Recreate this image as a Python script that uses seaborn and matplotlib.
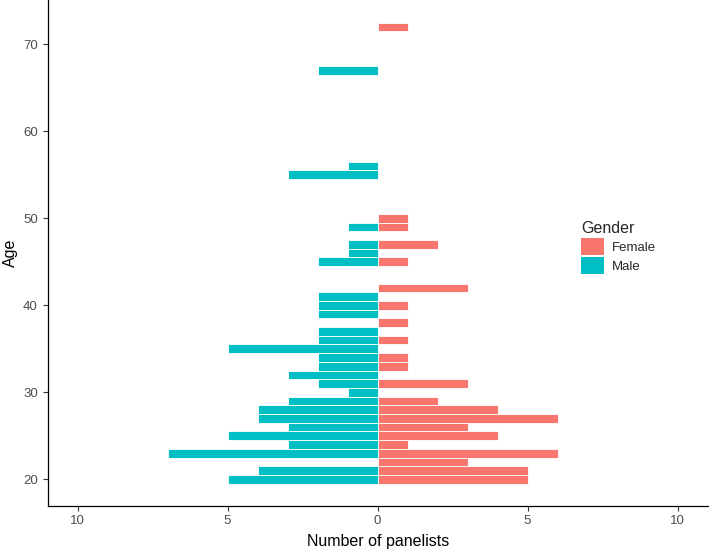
import matplotlib
matplotlib.use("Agg")
import matplotlib.pyplot as plt
from matplotlib.ticker import FuncFormatter
from matplotlib.patches import Patch
import seaborn as sns
import pandas as pd

########## Data ##########

ages = [20, 21, 22, 23, 24, 25, 26, 27, 28, 29, 30, 31, 32, 33, 34, 35,
        36, 37, 38, 39, 40, 41, 42, 45, 46, 47, 49, 50, 55, 56, 67, 72]
female = [5, 5, 3, 6, 1, 4, 3, 6, 4, 2, 0, 3, 0, 1, 1, 0,
          1, 0, 1, 0, 1, 0, 3, 1, 0, 2, 1, 1, 0, 0, 0, 1]
male = [5, 4, 0, 7, 3, 5, 3, 4, 4, 3, 1, 2, 3, 2, 2, 5,
        2, 2, 0, 2, 2, 2, 0, 2, 1, 1, 1, 0, 3, 1, 2, 0]
genders = ["Female", "Male"]
colors = ["#F8766D", "#00BFC4"]

########## Long frame (male counts drawn to the left) ##########

rows = []
for a, f, m in zip(ages, female, male):
    if f > 0:
        rows.append({"Age": a, "count": f, "Gender": "Female"})
    if m > 0:
        rows.append({"Age": a, "count": -m, "Gender": "Male"})
frame = pd.DataFrame(rows)

########## Plot ##########

sns.set_theme(style="ticks")
plt.rcParams["font.family"] = ["Liberation Sans", "DejaVu Sans"]

fig = plt.figure(figsize=(7.09, 5.52), dpi=100)
ax = fig.add_axes([0.067, 0.084, 0.933, 0.916])

sns.barplot(data=frame, x="count", y="Age", hue="Gender", hue_order=genders,
            palette=colors, saturation=1, orient="y", native_scale=True,
            dodge=False, width=1.0, errorbar=None, edgecolor="white",
            linewidth=0.6, legend=False, ax=ax)

ax.set_xlim(-11.0, 11.05)
ax.set_ylim(16.97, 75.1)
ax.set_xticks([-10, -5, 0, 5, 10])
ax.set_yticks([20, 30, 40, 50, 60, 70])
ax.xaxis.set_major_formatter(FuncFormatter(lambda v, p: f"{abs(int(v))}"))

sns.despine(ax=ax)
for s in ["left", "bottom"]:
    ax.spines[s].set_color("black")
    ax.spines[s].set_linewidth(0.9)
ax.tick_params(axis="both", colors="#333333", labelcolor="#4D4D4D",
               labelsize=9.5, length=3.5, width=0.8)

ax.set_xlabel("Number of panelists", fontsize=11.5, color="black", labelpad=5)
ax.set_ylabel("Age", fontsize=11.5, color="black", labelpad=4)

handles = [Patch(facecolor=c, edgecolor="none") for c in colors]
ax.legend(handles, genders, title="Gender", loc="upper left",
          bbox_to_anchor=(0.807, 0.563), frameon=False, fontsize=9.5,
          title_fontsize=11.5, handlelength=1.75, handleheight=1.65,
          labelspacing=0.12, handletextpad=0.55, borderpad=0,
          borderaxespad=0, alignment="left")

fig.savefig("out.png", dpi=100)
